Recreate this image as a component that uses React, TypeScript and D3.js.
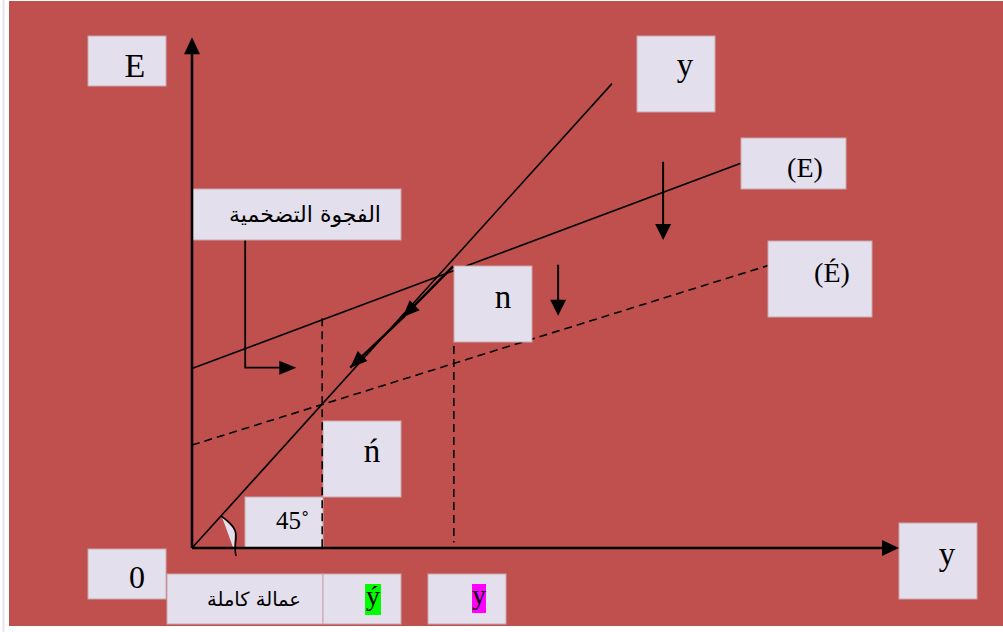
import React from "react";
import * as d3 from "d3";

// ---- data (diagram units) ----
const line45 = [{ x: 0, y: 0 }, { x: 60, y: 60 }];
const lineE = [{ x: 0, y: 23.2 }, { x: 78.4, y: 49.7 }];
const lineE2 = [{ x: 0, y: 13.3 }, { x: 82.3, y: 36.5 }];
const guideX = [18.6, 37.4];
const guideTop = [29.7, 26.1];
const guideBottom = [0, 0.7];
const diagArrows = [
  { x1: 37.3, y1: 36.4, x2: 30.1, y2: 29.8 },
  { x1: 30.4, y1: 30.0, x2: 22.6, y2: 23.3 },
];
const downArrows = [
  { x: 67.3, y1: 49.9, y2: 39.8 },
  { x: 52.3, y1: 36.6, y2: 30.0 },
];
const bracketArrow = [{ x: 7.6, y: 39.8 }, { x: 7.6, y: 23.3 }, { x: 14.9, y: 23.3 }];
const xDomain = [0, 101];
const yDomain = [0, 66];

// ---- labels (layout) ----
const labels = [
  { t: "E", box: [88, 36, 78, 50], tx: 135, ty: 77, fs: 34 },
  { t: "y", box: [637, 36, 78, 76], tx: 685, ty: 76, fs: 33 },
  { t: "(E)", box: [741, 138, 105, 51], tx: 805, ty: 177, fs: 28 },
  { t: "(É)", box: [768, 241, 104, 76], tx: 832, ty: 282, fs: 28 },
  { t: "n", box: [454, 266, 78, 76], tx: 503, ty: 308, fs: 33 },
  { t: "ń", box: [323, 421, 78, 76], tx: 372, ty: 462, fs: 33 },
  { t: "0", box: [88, 549, 78, 50], tx: 137, ty: 588, fs: 32 },
  { t: "y", box: [899, 523, 78, 76], tx: 947, ty: 565, fs: 33 },
];

const RED = "#C0504D";
const BOX = "#E4DFEC";
const BOXSTROKE = "#C7A7AE";
const SERIF = "'Liberation Serif', 'Times New Roman', serif";
const ARABIC = "'DejaVu Sans', sans-serif";

function head(tx: number, ty: number, fx: number, fy: number, len = 16, hw = 7) {
  const dx = tx - fx, dy = ty - fy;
  const d = Math.hypot(dx, dy);
  const ux = dx / d, uy = dy / d;
  const bx = tx - ux * len, by = ty - uy * len;
  return `M${tx},${ty}L${bx - uy * hw},${by + ux * hw}L${bx + uy * hw},${by - ux * hw}Z`;
}

export default function App() {
  const x = d3.scaleLinear().domain(xDomain).range([192, 899]);
  const y = d3.scaleLinear().domain(yDomain).range([548, 37.2]);
  const line = d3.line<{ x: number; y: number }>().x((d) => x(d.x)).y((d) => y(d.y));

  const x0 = x(0), y0 = y(0), xTip = x(xDomain[1]), yTip = y(yDomain[1]);
  const bLast = bracketArrow[bracketArrow.length - 1];
  const bPrev = bracketArrow[bracketArrow.length - 2];

  return (
    <svg
      width={1003}
      height={632}
      style={{ position: "absolute", left: 0, top: 0, background: "#fff" }}
    >
      <rect x={0} y={0} width={1003} height={632} fill="#fff" />
      <line x1={3.5} y1={0} x2={3.5} y2={632} stroke="#e6e6e6" strokeWidth={2} />
      <rect x={9} y={1} width={994} height={625} fill={RED} />

      {/* economic lines */}
      <path d={line(line45) || ""} stroke="#000" strokeWidth={1.6} fill="none" />
      <path d={line(lineE) || ""} stroke="#000" strokeWidth={1.6} fill="none" />
      <path d={line(lineE2) || ""} stroke="#000" strokeWidth={1.6} fill="none" strokeDasharray="8,5" />

      {/* 45 angle mark */}
      <path d="M222,517 L235,530 L234,550 Z" fill={BOX} />
      <path d="M221,516 C229,522 236,527 236,536 C236,543 234,548 236,556" stroke="#000" strokeWidth={1.6} fill="none" />

      {/* bracket arrow */}
      <path d={line(bracketArrow.slice(0, 2).concat([{ x: bLast.x - 2, y: bLast.y }])) || ""} stroke="#000" strokeWidth={1.8} fill="none" />
      <path d={head(x(bLast.x), y(bLast.y), x(bPrev.x), y(bPrev.y), 17, 7)} fill="#000" />

      {/* diagonal arrows */}
      {diagArrows.map((a, i) => (
        <g key={i}>
          <line x1={x(a.x1)} y1={y(a.y1)} x2={x(a.x2)} y2={y(a.y2)} stroke="#000" strokeWidth={2.4} />
          <path d={head(x(a.x2), y(a.y2), x(a.x1), y(a.y1), 17, 7)} fill="#000" />
        </g>
      ))}

      {/* vertical down arrows */}
      {downArrows.map((a, i) => (
        <g key={i}>
          <line x1={x(a.x)} y1={y(a.y1)} x2={x(a.x)} y2={y(a.y2) - 10} stroke="#000" strokeWidth={2} />
          <path d={head(x(a.x), y(a.y2), x(a.x), y(a.y1), 16, 8)} fill="#000" />
        </g>
      ))}

      {/* label boxes */}
      {labels.map((l, i) => (
        <g key={i}>
          <rect x={l.box[0]} y={l.box[1]} width={l.box[2]} height={l.box[3]} fill={BOX} stroke={BOXSTROKE} strokeWidth={1} />
          <text x={l.tx} y={l.ty} fontFamily={SERIF} fontSize={l.fs} textAnchor="middle" fill="#000">
            {l.t}
          </text>
        </g>
      ))}

      {/* 45 box */}
      <rect x={245} y={497} width={78} height={51} fill={BOX} stroke={BOXSTROKE} strokeWidth={1} />
      <text x={276} y={529} fontFamily={SERIF} fontSize={25} fill="#000">45˚</text>

      {/* Arabic boxes */}
      <rect x={192} y={189} width={209} height={51} fill={BOX} stroke={BOXSTROKE} strokeWidth={1} />
      <text x={305} y={222} fontFamily={ARABIC} fontSize={22} textAnchor="middle" direction="rtl" fill="#000">
        الفجوة التضخمية
      </text>
      <rect x={167} y={574} width={156} height={50} fill={BOX} stroke={BOXSTROKE} strokeWidth={1} />
      <text x={254} y={606} fontFamily={ARABIC} fontSize={19.5} textAnchor="middle" direction="rtl" fill="#000">
        عمالة كاملة
      </text>
      <rect x={323} y={574} width={78} height={50} fill={BOX} stroke={BOXSTROKE} strokeWidth={1} />
      <rect x={365} y={584} width={16} height={31} fill="#00FF00" />
      <text x={373} y={605} fontFamily={SERIF} fontSize={28} textAnchor="middle" fill="#000">ý</text>
      <rect x={428} y={574} width={78} height={50} fill={BOX} stroke={BOXSTROKE} strokeWidth={1} />
      <rect x={472} y={584} width={14} height={29} fill="#FF00FF" />
      <text x={479} y={604} fontFamily={SERIF} fontSize={28} textAnchor="middle" fill="#000">y</text>

      {/* dashed guides */}
      {guideX.map((g, i) => (
        <line
          key={i}
          x1={x(g)}
          y1={y(guideTop[i])}
          x2={x(g)}
          y2={y(guideBottom[i])}
          stroke="#000"
          strokeWidth={1.6}
          strokeDasharray="8,5"
        />
      ))}

      {/* axes */}
      <line x1={x0} y1={y0} x2={x0} y2={yTip + 14} stroke="#000" strokeWidth={2.6} />
      <path d={head(x0, yTip, x0, y0, 17, 8)} fill="#000" />
      <line x1={x0} y1={y0} x2={xTip - 14} y2={y0} stroke="#000" strokeWidth={2.6} />
      <path d={head(xTip, y0, x0, y0, 17, 8)} fill="#000" />
    </svg>
  );
}
